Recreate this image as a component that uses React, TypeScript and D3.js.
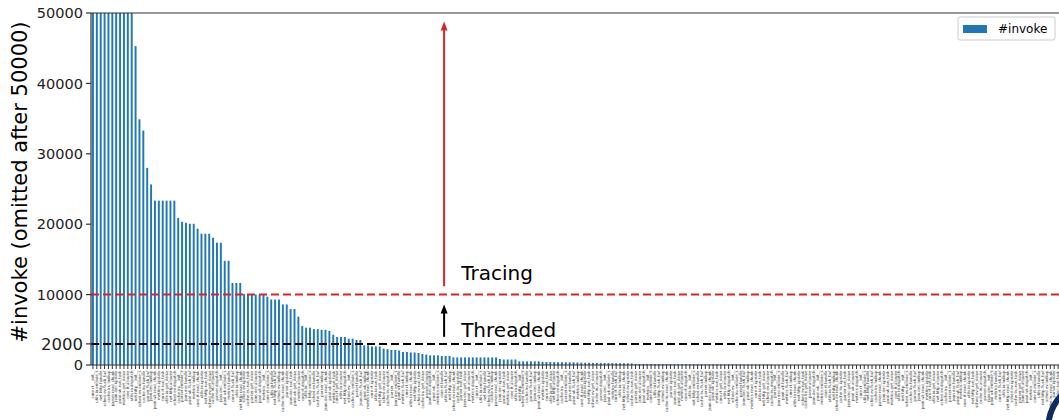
import React from 'react'
import * as d3 from 'd3'

// number of invocations per function, sorted, clipped at 50000
const invokeCounts = [
  50000, 50000, 50000, 50000, 50000, 50000, 50000, 50000, 50000, 50000, 50000,
  45300, 34900, 33300, 28000, 25650,
  23350, 23350, 23350, 23350, 23350, 23350,
  20900, 20350, 20200, 20060, 20060, 19350,
  18650, 18650, 18650, 18080, 17370, 17370, 14800, 14800,
  11650, 11650, 11650,
  10100, 10050, 10000, 10000, 9950, 9950,
  9700, 9300, 9300, 9300, 8600, 8600, 7950, 7950, 6860, 5540,
  5300, 5300, 5100, 5100, 5000, 5000, 4830, 4300, 3980, 3980,
  3980, 3740, 3740, 3550, 3550, 2790, 2790, 2640, 2640, 2640,
  2320, 2250, 2130, 2130, 2050, 1850, 1850, 1780, 1780, 1700,
  1560, 1480, 1370, 1370, 1370, 1280, 1280, 1280,
  1080, 1080, 1080, 1080, 1080, 1080, 1080, 1080, 1080, 1080, 1080, 1080,
  850, 780, 780, 780, 780, 520, 520, 520, 520, 520, 520,
  450, 430, 420, 420, 400, 400, 390, 380, 370, 360,
  330, 320, 310, 300, 300, 290, 280, 280, 270, 260, 250, 250, 240, 230,
  160, 150, 150, 150, 140, 140, 140, 130, 130, 130, 120, 120, 120, 120, 110, 110, 110, 110,
  100, 100, 100, 100, 100, 90, 90, 90, 90, 90, 80, 80, 80, 80, 70, 70, 70, 70,
  10, 10, 10, 10, 10, 10, 10, 10, 10, 10, 10, 10, 10, 10, 10, 10, 10, 10, 10, 10,
  10, 10, 10, 10, 10, 10, 10, 10, 10, 10, 10, 10, 10, 10, 10, 10, 10, 10, 10, 10,
  10, 10, 10, 10, 10, 10, 10, 10, 10, 10, 10, 10, 10, 10, 10, 10, 10, 10, 10, 10,
  10, 10, 10, 10, 10, 10, 10, 10, 10, 10, 10, 10, 10, 10,
]

// function names on the x axis (too small to read in the picture)
const modules = ['core.rt', 'utils.io', 'net.http', 'sched.ev', 'cache.lru', 'parser', 'json.dec', 'pool.wk', 'metrics']
const funcs = ['__init__', 'get_value', 'read_chunk', 'handle', 'dispatch', 'run_task', 'lookup', 'encode_s', 'acquire', 'update', 'flush_buf']
const functionNames = invokeCounts.map((_, i) => modules[i % modules.length] + '.' + funcs[(i * 7) % funcs.length])

const yTickValues = [0, 3000, 10000, 20000, 30000, 40000, 50000]
const yTickLabels = ['0', '2000', '10000', '20000', '30000', '40000', '50000']

const tracingLevel = 10000
const threadedLevel = 3000
const arrowPos = 90.6
const tracingArrow = [11200, 48800]
const threadedArrow = [4000, 8600]

const W = 1059
const H = 420
const margin = { left: 91, right: 1060, top: 13, bottom: 365 }
const font = 'DejaVu Sans, sans-serif'

export default function App() {
  const n = invokeCounts.length
  const x = d3.scaleBand<number>().domain(d3.range(n)).range([margin.left, margin.right]).paddingInner(0.5).paddingOuter(0.25)
  const xl = d3.scaleLinear().domain([-0.5, n - 0.5]).range([margin.left, margin.right])
  const y = d3.scaleLinear().domain([0, 50000]).range([margin.bottom, margin.top])

  const arrow = (from: number, to: number, color: string) => {
    const ax = xl(arrowPos)
    const y0 = y(from)
    const y1 = y(to)
    return (
      <g>
        <line x1={ax} x2={ax} y1={y0} y2={y1 + 7} stroke={color} strokeWidth={2} />
        <path d={`M${ax},${y1} L${ax - 3.5},${y1 + 9} L${ax + 3.5},${y1 + 9} Z`} fill={color} />
      </g>
    )
  }

  return (
    <svg width={W} height={H} style={{ position: 'fixed', left: 0, top: 0, background: '#fff' }} fontFamily={font}>
      <defs>
        <clipPath id="plot">
          <rect x={margin.left} y={margin.top} width={margin.right - margin.left} height={margin.bottom - margin.top} />
        </clipPath>
      </defs>
      <g clipPath="url(#plot)">
        {invokeCounts.map((v, i) => (
          <rect key={i} x={x(i)} width={x.bandwidth()} y={y(Math.min(v, 50000))} height={margin.bottom - y(Math.min(v, 50000))} fill="#1f77b4" />
        ))}
      </g>

      {/* threshold lines */}
      <line x1={margin.left} x2={W} y1={y(tracingLevel)} y2={y(tracingLevel)} stroke="#d62728" strokeWidth={2} strokeDasharray="8,4" />
      <line x1={margin.left} x2={W} y1={y(threadedLevel)} y2={y(threadedLevel)} stroke="#000" strokeWidth={2} strokeDasharray="8,4" />

      {arrow(tracingArrow[0], tracingArrow[1], '#d62728')}
      {arrow(threadedArrow[0], threadedArrow[1], '#000')}
      <text x={xl(95)} y={y(12100)} fontSize={20} fill="#000">Tracing</text>
      <text x={xl(95)} y={y(4000)} fontSize={20} fill="#000">Threaded</text>

      {/* spines */}
      <line x1={margin.left} x2={W} y1={margin.top} y2={margin.top} stroke="#333" strokeWidth={1.2} />
      <line x1={margin.left} x2={W} y1={margin.bottom} y2={margin.bottom} stroke="#333" strokeWidth={1.2} />
      <line x1={margin.left} x2={margin.left} y1={margin.top} y2={margin.bottom} stroke="#333" strokeWidth={1.2} />

      {/* y axis */}
      {yTickValues.map((v, i) => (
        <g key={v} transform={`translate(${margin.left},${y(v)})`}>
          <line x1={-5} x2={0} stroke="#333" strokeWidth={1.2} />
          <text x={-8} dy="0.36em" textAnchor="end" fontSize={v === threadedLevel ? 16.5 : 14.5} fill="#222">{yTickLabels[i]}</text>
        </g>
      ))}
      <text transform={`translate(27,182) rotate(-90)`} textAnchor="middle" fontSize={21} fill="#000">#invoke (omitted after 50000)</text>

      {/* x axis */}
      {functionNames.map((name, i) => {
        const cx = (x(i) ?? 0) + x.bandwidth() / 2
        return (
          <g key={i} transform={`translate(${cx},${margin.bottom})`}>
            <line y1={0} y2={4} stroke="#333" strokeWidth={1} />
            <text transform="translate(1.3,5.5) rotate(-90)" textAnchor="end" fontSize={3.9} fill="#333">{name}</text>
          </g>
        )
      })}

      {/* legend */}
      <g transform="translate(958,17)">
        <rect x={0} y={0} width={97} height={23} rx={2} fill="#fff" fillOpacity={0.8} stroke="#ccc" strokeWidth={1} />
        <rect x={5} y={8} width={24} height={8} fill="#1f77b4" />
        <text x={40} y={16} fontSize={12} fill="#000">#invoke</text>
      </g>

      <circle cx={1100} cy={430} r={52} fill="#fff" stroke="#0f2b5f" strokeWidth={6} />
    </svg>
  )
}
